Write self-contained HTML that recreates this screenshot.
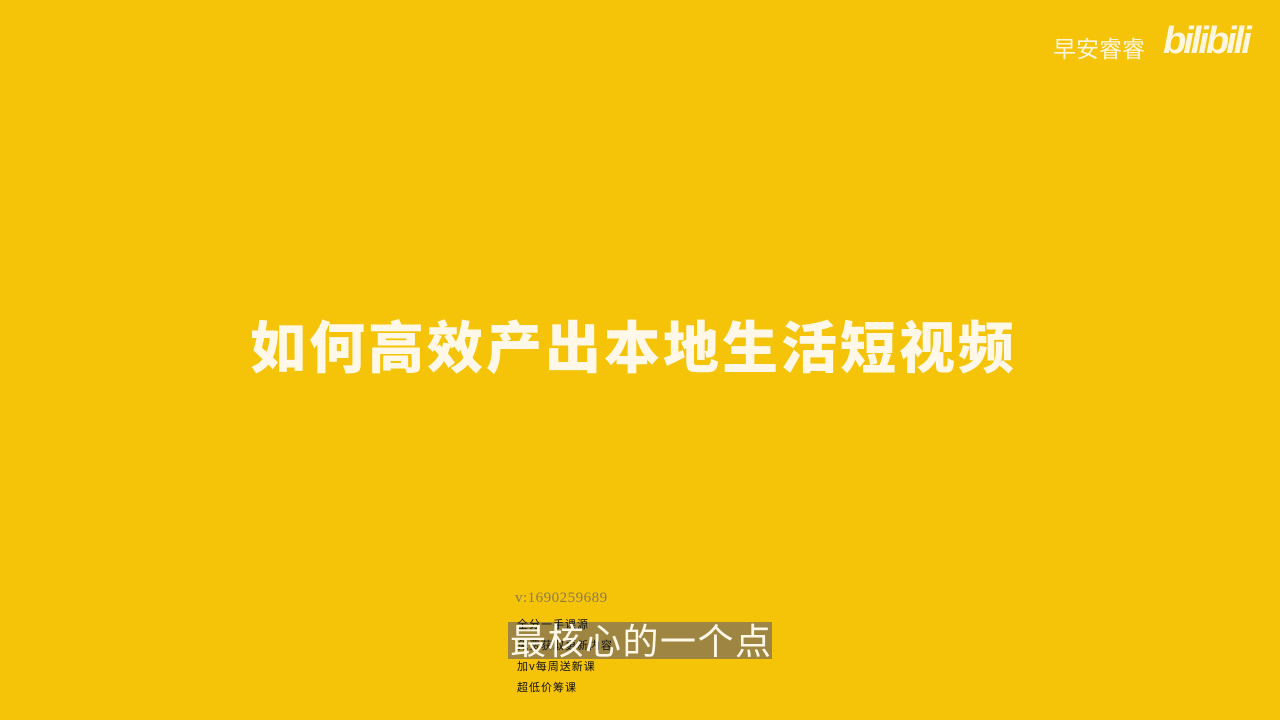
<!DOCTYPE html>
<html><head><meta charset="utf-8"><style>
body{margin:0;width:1280px;height:720px;background:#F5C308;position:relative;overflow:hidden;font-family:"Liberation Sans","Noto Sans CJK SC",sans-serif}
div{position:absolute;white-space:nowrap}
</style></head><body>
<div style="left:1053px;top:30px;font-size:23px;color:#FFF6E0">早安睿睿</div>
<div style="left:1163px;top:20px;font-size:38px;font-weight:bold;font-style:italic;color:#FFF6E0;letter-spacing:-3px">bilibili</div>
<div style="left:250px;top:304px;font-size:56px;font-weight:900;color:#FFF8E8;letter-spacing:3px;font-family:'Noto Sans CJK SC',sans-serif">如何高效产出本地生活短视频</div>
<div style="left:515px;top:590px;font-size:15px;color:#8a7a50;font-family:'Liberation Serif',serif;letter-spacing:0.5px">v:1690259689</div>
<div style="left:508px;top:622px;width:264px;height:37px;background:#9E8642"></div>
<div style="left:517px;top:614px;font-size:11px;line-height:21px;color:#111;letter-spacing:1px;font-family:'Noto Sans CJK SC',sans-serif">全分一手课源<br>免费获取更新内容<br>加v每周送新课<br>超低价筹课</div>
<div style="left:510px;top:618px;font-size:36px;line-height:42px;letter-spacing:1.5px;color:#FFF8E8;font-family:'Noto Sans CJK SC',sans-serif">最核心的一个点</div>
</body></html>
